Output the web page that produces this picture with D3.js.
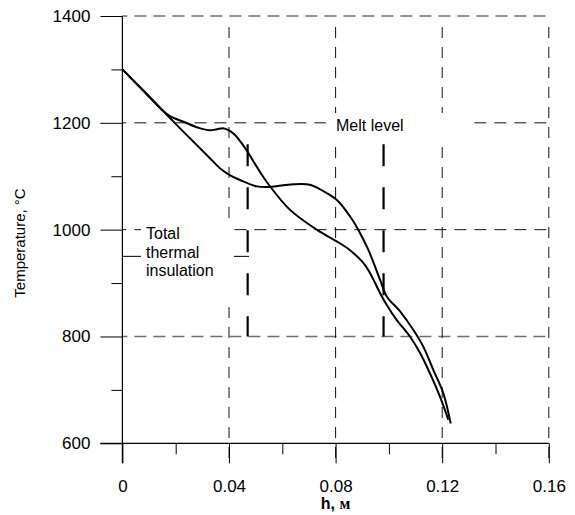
<!DOCTYPE html>
<html>
<head>
<meta charset="utf-8">
<script src="https://cdn.jsdelivr.net/npm/d3@7"></script>
<style>
  body { margin: 0; background: #fff; }
  text { font-family: "Liberation Sans", Arial, sans-serif; fill: #000; }
</style>
</head>
<body>
<div id="chart"></div>
<script>
// curve data, h in metres, temperature in deg C
var hA    = [0, 0.008, 0.0171, 0.0234, 0.029, 0.0328, 0.0355, 0.0377, 0.040, 0.0421, 0.0464, 0.051, 0.0554, 0.0629, 0.0729, 0.0842, 0.090, 0.0929, 0.0967, 0.0992, 0.1029, 0.1079, 0.1117, 0.1154, 0.1192, 0.1223];
var tempA = [1300, 1259, 1215, 1201, 1190, 1186, 1188, 1190, 1186, 1178, 1150, 1113, 1081, 1037, 1000, 966, 940, 919, 881, 859, 831, 800, 769, 731, 687, 644];

var hB    = [0, 0.01, 0.0196, 0.028, 0.0334, 0.0366, 0.040, 0.0441, 0.0504, 0.0554, 0.0641, 0.0704, 0.0754, 0.0804, 0.0854, 0.0885, 0.0923, 0.0967, 0.0992, 0.1042, 0.1092, 0.1129, 0.1167, 0.1204, 0.1232];
var tempB = [1300, 1250, 1200, 1158, 1131, 1115, 1103, 1093, 1081, 1080, 1085, 1084, 1072, 1056, 1025, 1000, 962, 906, 875, 847, 812, 781, 737, 694, 637];

// melt level markers and insulation level
var meltH = [0.047, 0.098];
var meltTop = 1160, meltBottom = 800;
var insulationTemp = 950, insulationH = 0.0475;

// ticks
var xMajor = [0, 0.04, 0.08, 0.12, 0.16];
var xMinor = [0.02, 0.06, 0.10, 0.14];
var yMajor = [600, 800, 1000, 1200, 1400];
var yMinor = [700, 900, 1100, 1300];
var xGrid = [0.04, 0.08, 0.12, 0.16];
var yGrid = [800, 1000, 1200, 1400];
var grayGrid = [0.04, 800, 1400];

var width = 575, height = 515;

var x = d3.scaleLinear().domain([0, 0.16]).range([122.4, 548.8]);
var y = d3.scaleLinear().domain([600, 1400]).range([443.3, 16]);

var svg = d3.select("#chart").append("svg")
    .attr("width", width)
    .attr("height", height);

// grid lines
svg.append("g").selectAll("line")
    .data(yGrid)
  .enter().append("line")
    .attr("x1", x(0))
    .attr("x2", x(0.16))
    .attr("y1", function(d) { return y(d); })
    .attr("y2", function(d) { return y(d); })
    .style("stroke", function(d) { return grayGrid.indexOf(d) >= 0 ? "#6e6e6e" : "#111"; })
    .style("stroke-width", function(d) { return grayGrid.indexOf(d) >= 0 ? 1.6 : 1; })
    .style("stroke-dasharray", function(d) { return grayGrid.indexOf(d) >= 0 ? "12,7" : "12,8"; })
    .style("stroke-dashoffset", -12);

svg.append("g").selectAll("line")
    .data(xGrid)
  .enter().append("line")
    .attr("x1", function(d) { return x(d); })
    .attr("x2", function(d) { return x(d); })
    .attr("y1", y(1400) + 11)
    .attr("y2", y(600) + 20)
    .style("stroke", function(d) { return grayGrid.indexOf(d) >= 0 ? "#6e6e6e" : "#111"; })
    .style("stroke-width", function(d) { return grayGrid.indexOf(d) >= 0 ? 1.6 : 1; })
    .style("stroke-dasharray", "11,9");

// insulation leader line
svg.append("line")
    .attr("x1", x(0))
    .attr("x2", x(insulationH))
    .attr("y1", y(insulationTemp))
    .attr("y2", y(insulationTemp))
    .style("stroke", "#000")
    .style("stroke-width", 1);

// label boxes
svg.append("rect")
    .attr("x", 141).attr("y", 220).attr("width", 93).attr("height", 83)
    .style("fill", "#fff");
svg.append("rect")
    .attr("x", 326).attr("y", 113).attr("width", 142).attr("height", 30)
    .style("fill", "#fff");

var insText = svg.append("text")
    .attr("x", 146)
    .style("font-size", "16px");
insText.append("tspan").attr("x", 146).attr("y", 239).text("Total");
insText.append("tspan").attr("x", 146).attr("y", 257.5).text("thermal");
insText.append("tspan").attr("x", 146).attr("y", 276).text("insulation");

svg.append("text")
    .attr("x", 336)
    .attr("y", 131)
    .style("font-size", "16px")
    .text("Melt level");

// axes
svg.append("g")
    .attr("transform", "translate(0," + y(600) + ")")
    .call(d3.axisBottom(x).tickValues(xMajor).tickSize(20).tickPadding(17)
        .tickFormat(function(d) { return d === 0 ? "0" : d3.format(".2f")(d); }));
svg.append("g")
    .attr("transform", "translate(0," + y(600) + ")")
    .call(d3.axisBottom(x).tickValues(xMinor).tickSize(11).tickFormat(""));

svg.append("g")
    .attr("transform", "translate(" + x(0) + ",0)")
    .call(d3.axisLeft(y).tickValues(yMajor).tickSize(22).tickPadding(10)
        .tickFormat(d3.format("d")));
svg.append("g")
    .attr("transform", "translate(" + x(0) + ",0)")
    .call(d3.axisLeft(y).tickValues(yMinor).tickSize(11).tickFormat(""));

svg.selectAll(".domain").remove();
svg.selectAll(".tick line").style("stroke", "#000").style("stroke-width", 1);
svg.selectAll(".tick text")
    .style("font-family", "'Liberation Sans', Arial, sans-serif")
    .style("font-size", "17px")
    .style("fill", "#000");

// axis lines
svg.append("line")
    .attr("x1", x(0)).attr("x2", x(0))
    .attr("y1", y(1400)).attr("y2", y(600) + 20)
    .style("stroke", "#000").style("stroke-width", 1.2);
svg.append("line")
    .attr("x1", x(0) - 22).attr("x2", x(0.16))
    .attr("y1", y(600)).attr("y2", y(600))
    .style("stroke", "#000").style("stroke-width", 1.2);

// axis titles
svg.append("text")
    .attr("transform", "translate(25," + 243 + ") rotate(-90)")
    .attr("text-anchor", "middle")
    .style("font-size", "15px")
    .text("Temperature, \u00B0C");

var xt = svg.append("text")
    .attr("x", x(0.08))
    .attr("y", 509)
    .attr("text-anchor", "middle")
    .style("font-size", "16px")
    .style("font-weight", "bold");
xt.append("tspan").text("h, ");
xt.append("tspan").style("font-family", "'Liberation Serif', 'Times New Roman', serif").text("\u043C");

// melt level markers
svg.append("g").selectAll("line")
    .data(meltH)
  .enter().append("line")
    .attr("x1", function(d) { return x(d); })
    .attr("x2", function(d) { return x(d); })
    .attr("y1", y(meltTop))
    .attr("y2", y(meltBottom))
    .style("stroke", "#000")
    .style("stroke-width", 2.2)
    .style("stroke-dasharray", "22,21");

// curves
var valueline = d3.line()
    .x(function(d) { return x(d[0]); })
    .y(function(d) { return y(d[1]); })
    .curve(d3.curveCatmullRom.alpha(0.5));

var curves = [d3.zip(hA, tempA), d3.zip(hB, tempB)];

svg.append("g").selectAll("path")
    .data(curves)
  .enter().append("path")
    .attr("d", valueline)
    .style("fill", "none")
    .style("stroke", "#000")
    .style("stroke-width", 2);
</script>
</body>
</html>
